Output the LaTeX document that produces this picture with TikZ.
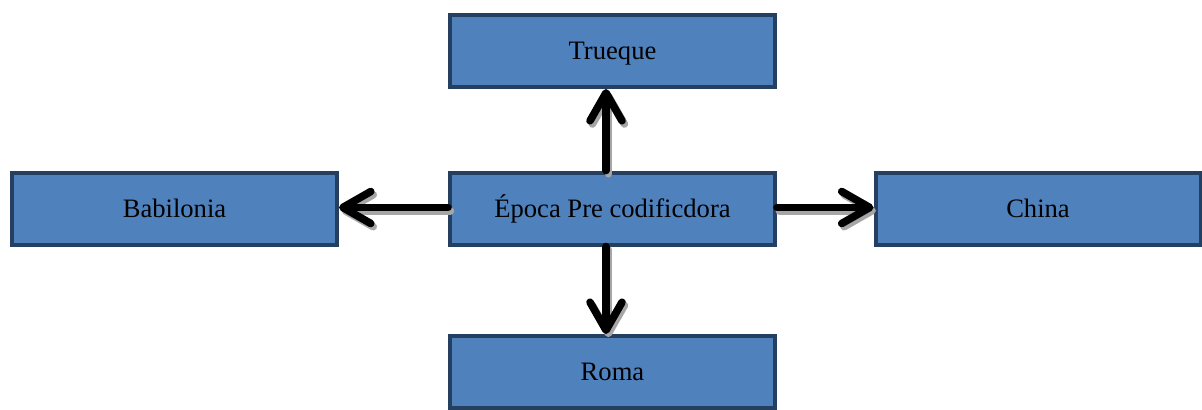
\documentclass[tikz,border=0pt]{standalone}
\usepackage{fontspec}
\setmainfont{Liberation Serif}
\usetikzlibrary{arrows.meta}
\definecolor{boxfill}{HTML}{4F81BD}
\definecolor{boxline}{HTML}{243F60}
\begin{document}
\begin{tikzpicture}[x=0.5pt,y=-0.5pt,
    caja/.style={rectangle, draw=boxline, line width=2pt, fill=boxfill, minimum width=162.5pt, minimum height=36pt, inner sep=0pt, text height=11.6pt, text depth=2.9pt, font=\fontsize{13.3}{16}\selectfont},
    flecha/.style={line width=3.8pt, line cap=round, -{Straight Barb[length=14pt,width=16pt,line cap=round,line join=round]}},
    sombra/.style={flecha, draw=black!35, transform canvas={shift={(1.2pt,-1.6pt)}}}]
		    \useasboundingbox (0,0) rectangle (1202,409);
		    
		    \node [caja] (trueque) at (612.5,51) {Trueque};
		    \node [caja] (epoca) at (612.5,208.5) {Época Pre codificdora};
		    \node [caja] (babilonia) at (174.5,208.5) {Babilonia};
		    \node [caja] (china) at (1038,208.5) {China};
		    \node [caja] (roma) at (612.5,372) {Roma};
		    
			% sombra primero, luego la flecha
			\foreach \estilo in {sombra,flecha} {
			\draw [\estilo] ([xshift=-3.25pt]epoca.north) -- ([xshift=-3.25pt]trueque.south);
			\draw [\estilo] ([yshift=0.5pt]epoca.west) -- ([yshift=0.5pt]babilonia.east);
			\draw [\estilo] ([yshift=0.5pt]epoca.east) -- ([yshift=0.5pt]china.west);
			\draw [\estilo] ([xshift=-3.25pt]epoca.south) -- ([xshift=-3.25pt]roma.north);
			}
		\end{tikzpicture}
\end{document}
